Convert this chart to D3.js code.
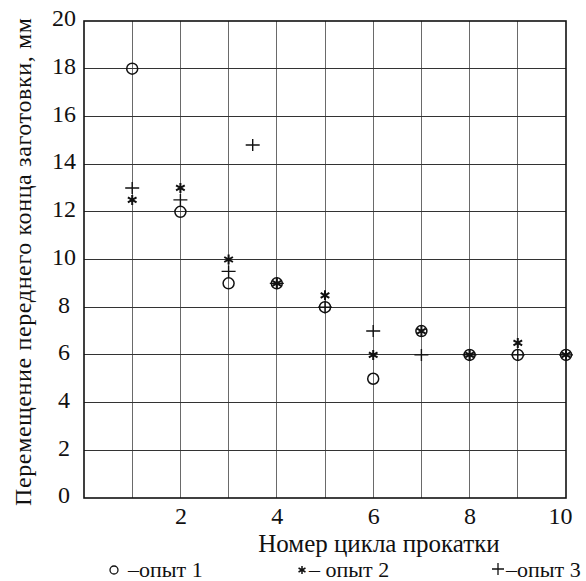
<!DOCTYPE html>
<html>
<head>
<meta charset="UTF-8">
<script src="https://cdn.jsdelivr.net/npm/d3@7"></script>
</head>
<body style="margin:0">
<script>
// опыт 1 (круги), опыт 2 (звёздочки), опыт 3 (кресты)
var cycles1 = [1, 2, 3, 4, 5, 6, 7, 8, 9, 10];
var opyt1 = [18, 12, 9, 9, 8, 5, 7, 6, 6, 6];
var cycles2 = [1, 2, 3, 4, 5, 6, 7, 8, 9, 10];
var opyt2 = [12.5, 13, 10, 9, 8.5, 6, 7, 6, 6.5, 6];
var cycles3 = [1, 2, 3, 3.5, 4, 5, 6, 7, 8, 9, 10];
var opyt3 = [13, 12.5, 9.5, 14.8, 9, 8, 7, 6, 6, 6, 6];
var xTicks = [2, 4, 6, 8, 10];
var yTicks = [0, 2, 4, 6, 8, 10, 12, 14, 16, 18, 20];
var xGrid = [1, 2, 3, 4, 5, 6, 7, 8, 9];
var legendLabels = ["\u2013опыт 1", "\u2013 опыт 2", "\u2013опыт 3"];

var FONT = "'Liberation Serif'";
var W = 586, H = 581;
var margin = {top: 21, right: 20, bottom: 83, left: 84};
var width = 566 - margin.left, height = 498 - margin.top;

var svg = d3.select("body").append("svg").attr("width", W).attr("height", H);
var g = svg.append("g").attr("transform", "translate(" + margin.left + "," + margin.top + ")");

var x = d3.scaleLinear().domain([0, 10]).range([0, width]);
var y = d3.scaleLinear().domain([0, 20]).range([height, 0]);

// grid
g.append("g").selectAll("line.v").data(xGrid).enter().append("line")
	.attr("x1", function(d) { return x(d); }).attr("x2", function(d) { return x(d); })
	.attr("y1", 0).attr("y2", height).attr("shape-rendering", "crispEdges")
	.attr("stroke", "#6a6a6a").attr("stroke-width", 1);
g.append("g").selectAll("line.h").data(yTicks.slice(1, -1)).enter().append("line")
	.attr("x1", 0).attr("x2", width).attr("shape-rendering", "crispEdges")
	.attr("y1", function(d) { return y(d); }).attr("y2", function(d) { return y(d); })
	.attr("stroke", "#333").attr("stroke-width", 1);

// frame
g.append("rect").attr("x", 0).attr("y", 0).attr("width", width).attr("height", height)
	.attr("fill", "none").attr("stroke", "#111").attr("stroke-width", 1.6);

// axes (labels only)
var xAxis = d3.axisBottom(x).tickValues(xTicks).tickSize(0).tickPadding(10);
var yAxis = d3.axisLeft(y).tickValues(yTicks).tickSize(0).tickPadding(0);

var gx = g.append("g").attr("transform", "translate(0," + height + ")").call(xAxis);
gx.select(".domain").remove();
gx.selectAll("text").style("font-family", FONT).style("font-size", "24px").attr("fill", "#111")
	.attr("dy", "0.68em").attr("dx", function(d) { return d === 10 ? -6 : 0; });

var gy = g.append("g").call(yAxis);
gy.select(".domain").remove();
gy.selectAll("text").style("font-family", FONT).style("font-size", "24px").attr("fill", "#111")
	.attr("text-anchor", "middle").attr("x", -20).attr("dy", "0.2em");

// titles
svg.append("text").attr("x", 379).attr("y", 552).attr("text-anchor", "middle")
	.style("font-family", FONT).style("font-size", "25px").attr("fill", "#111")
	.text("Номер цикла прокатки");

svg.append("text").attr("transform", "translate(31,262) rotate(-90)")
	.attr("text-anchor", "middle").style("font-family", FONT).style("font-size", "24px")
	.attr("fill", "#111").attr("textLength", 488).attr("lengthAdjust", "spacing")
	.text("Перемещение переднего конца заготовки, мм");

// markers
function asterisk(s) {
	var p = d3.path();
	for (var i = 0; i < 3; i++) {
		var a = Math.PI / 2 + i * Math.PI / 3;
		p.moveTo(s * Math.cos(a), -s * Math.sin(a));
		p.lineTo(-s * Math.cos(a), s * Math.sin(a));
	}
	return p.toString();
}
function plus(w, h) {
	return "M" + (-w) + ",0H" + w + "M0," + (-h) + "V" + h;
}

var pts1 = cycles1.map(function(c, i) { return [c, opyt1[i]]; });
var pts2 = cycles2.map(function(c, i) { return [c, opyt2[i]]; });
var pts3 = cycles3.map(function(c, i) { return [c, opyt3[i]]; });

g.selectAll("circle.o1").data(pts1).enter().append("circle")
	.attr("cx", function(d) { return x(d[0]); }).attr("cy", function(d) { return y(d[1]); })
	.attr("r", 5.5).attr("fill", "none").attr("stroke", "#111").attr("stroke-width", 1.5);

g.selectAll("path.o2").data(pts2).enter().append("path")
	.attr("transform", function(d) { return "translate(" + x(d[0]) + "," + y(d[1]) + ")"; })
	.attr("d", asterisk(5)).attr("stroke", "#111").attr("stroke-width", 2);

g.selectAll("path.o3").data(pts3).enter().append("path")
	.attr("transform", function(d) { return "translate(" + x(d[0]) + "," + y(d[1]) + ")"; })
	.attr("d", plus(7, 6)).attr("stroke", "#111").attr("stroke-width", 1.4);

// legend
var lg = svg.append("g");
lg.append("circle").attr("cx", 114).attr("cy", 570).attr("r", 4)
	.attr("fill", "none").attr("stroke", "#111").attr("stroke-width", 1.3);
lg.append("path").attr("transform", "translate(302,570)").attr("d", asterisk(4))
	.attr("stroke", "#111").attr("stroke-width", 1.5);
lg.append("path").attr("transform", "translate(498,569)").attr("d", plus(6, 6))
	.attr("stroke", "#111").attr("stroke-width", 1.3);
var legX = [128, 309, 506];
lg.selectAll("text").data(legendLabels).enter().append("text")
	.attr("x", function(d, i) { return legX[i]; }).attr("y", 577)
	.style("font-family", FONT).style("font-size", "22px").attr("fill", "#111")
	.text(function(d) { return d; });
</script>
</body>
</html>
